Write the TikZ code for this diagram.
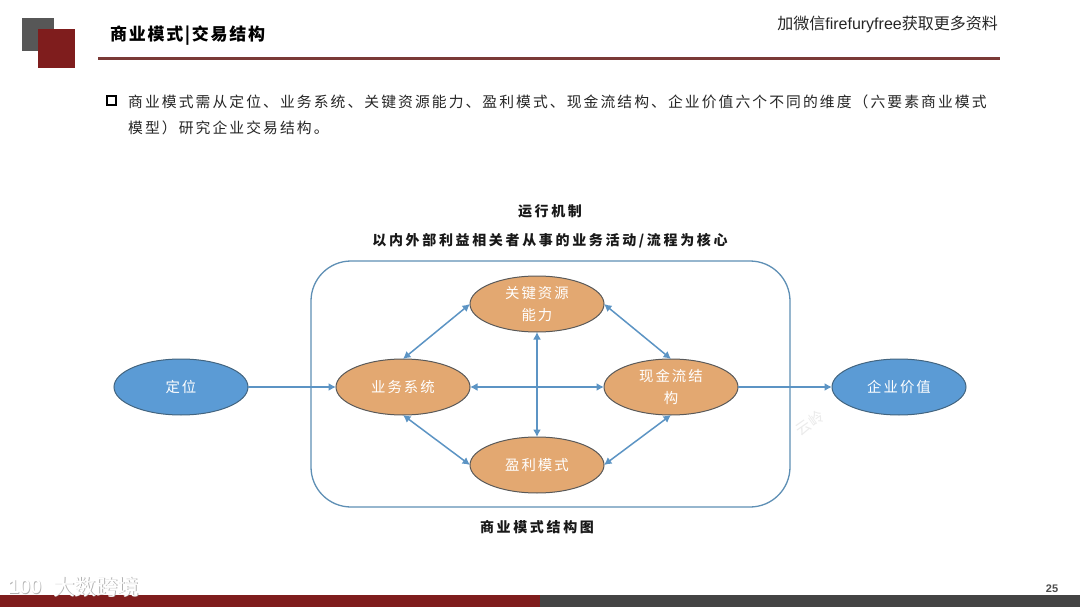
\documentclass[tikz,border=0pt]{standalone}
\usepackage{fontspec}
\setmainfont{Noto Sans CJK SC}
\newfontfamily\cjksp[LetterSpace=14]{Noto Sans CJK SC}
\newfontfamily\cjkcap[LetterSpace=19]{Noto Sans CJK SC}
\newfontfamily\cjktitle[LetterSpace=10]{Noto Sans CJK SC}
\newfontfamily\latinsans{Liberation Sans}
\usetikzlibrary{shapes.geometric,arrows.meta}
\definecolor{deepred}{HTML}{7F1D1D}
\definecolor{deepgray}{HTML}{444444}
\definecolor{rulered}{HTML}{7A3A36}
\definecolor{linkblue}{HTML}{5C94C4}
\definecolor{frameblue}{HTML}{5E8FB5}
\definecolor{ovalblue}{HTML}{5B9BD5}
\definecolor{ovalorange}{HTML}{E3A871}
\tikzset{
  x=1pt,y=-1pt,
  oval/.style={ellipse,minimum width=134pt,minimum height=56pt,inner sep=0pt,outer sep=0pt,align=center,text=white,font=\cjksp\fontsize{14.4}{22}\selectfont},
  blueoval/.style={oval,fill=ovalblue,draw=frameblue!70!black,line width=1pt},
  orangeoval/.style={oval,fill=ovalorange,draw=black!65,line width=1pt},
  link/.style={draw=linkblue,line width=1.5pt,{Latex[length=7.5pt,width=8pt]}-{Latex[length=7.5pt,width=8pt]}},
  oneway/.style={draw=linkblue,line width=1.5pt,-{Latex[length=7.5pt,width=8pt]}},
  captext/.style={font=\cjkcap\bfseries\fontsize{14}{16}\selectfont,text=black!90},
  bodytext/.style={font=\cjksp\fontsize{14.8}{16}\selectfont,text=black!85,anchor=west,inner sep=0pt},
  wmtext/.style={text=black!8,font=\fontsize{15}{17}\selectfont,rotate=35,inner sep=0pt}
}
\begin{document}
\begin{tikzpicture}
\useasboundingbox (0,0) rectangle (1080,607);
\fill[white] (0,0) rectangle (1080,607);
% header
\fill[deepgray!90] (22,18) rectangle (54,51);
\fill[deepred] (38,29) rectangle (75,68);
\node[anchor=west,inner sep=0pt,font=\cjktitle\bfseries\fontsize{17}{19}\selectfont] (title) at (110,36) {商业模式|交易结构};
\node[anchor=east,inner sep=0pt,font=\fontsize{16}{18}\selectfont,text=black!85] (promo) at (998,24) {加微信{\latinsans firefuryfree}获取更多资料};
\draw[rulered,line width=2.4pt] (98,58.5) -- (1000,58.5);
% intro
\draw[black,line width=2pt] (106.5,96.5) rectangle (115.5,105.5);
\node[bodytext] (introa) at (128,102) {商业模式需从定位、业务系统、关键资源能力、盈利模式、现金流结构、企业价值六个不同的维度（六要素商业模式};
\node[bodytext] (introb) at (128,128) {模型）研究企业交易结构。};
% watermarks
\node[wmtext] (wma) at (810,423) {云岭};
% captions
\node[captext] (capa) at (550,211) {运行机制};
\node[captext] (capb) at (550,241) {以内外部利益相关者从事的业务活动/流程为核心};
\node[captext] (capc) at (537,527) {商业模式结构图};
% frame
\node[draw=frameblue,line width=1.3pt,rounded corners=40pt,minimum width=479pt,minimum height=246pt,inner sep=0pt] (frame) at (550.5,384) {};
% ovals
\node[blueoval] (pos) at (181,387) {定位};
\node[orangeoval] (biz) at (403,387) {业务系统};
\node[orangeoval] (res) at (537,304) {关键资源\\能力};
\node[orangeoval] (cash) at (671,387) {现金流结\\构};
\node[orangeoval] (profit) at (537,465) {盈利模式};
\node[blueoval] (value) at (899,387) {企业价值};
% connectors
\draw[oneway] (pos.east) -- (biz.west);
\draw[oneway] (cash.east) -- (value.west);
\draw[link] (biz.east) -- (cash.west);
\draw[link] (res.south) -- (profit.north);
\draw[link] (biz.north) -- (res.west);
\draw[link] (res.east) -- (cash.north);
\draw[link] (biz.south) -- (profit.west);
\draw[link] (profit.east) -- (cash.south);
% footer
\fill[deepred] (0,595) rectangle (540,607);
\fill[deepgray] (540,595) rectangle (1080,607);
\node[font=\latinsans\bfseries\fontsize{11}{13}\selectfont,text=black!70,inner sep=0pt] (page) at (1052,589) {25};
\node[text=black!30,font=\fontsize{21.5}{23}\selectfont,inner sep=0pt,anchor=west] (brandshadow) at (53.8,587.8) {大数跨境};
\node[text=white,font=\fontsize{21.5}{23}\selectfont,inner sep=0pt,anchor=west] (brand) at (53,587) {大数跨境};
\node[text=black!30,font=\latinsans\bfseries\fontsize{20}{22}\selectfont,inner sep=0pt,anchor=west] (brandnumshadow) at (8.8,587.8) {100};
\node[text=white,font=\latinsans\bfseries\fontsize{20}{22}\selectfont,inner sep=0pt,anchor=west] (brandnum) at (8,587) {100};
\end{tikzpicture}
\end{document}
